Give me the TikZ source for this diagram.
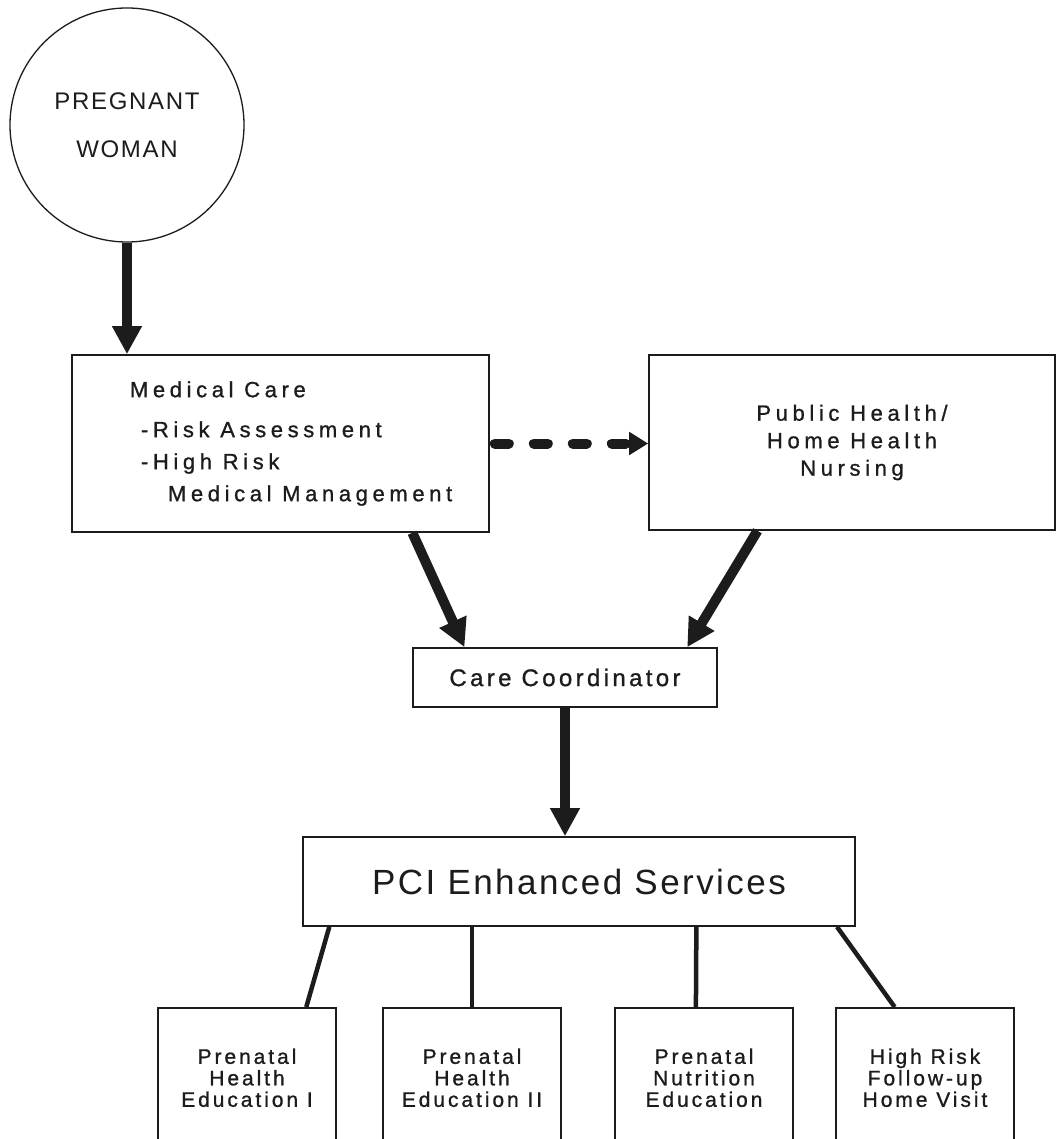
\documentclass[tikz,border=0pt]{standalone}
\usepackage{fontspec}
\setmainfont{Liberation Sans}
\newfontfamily\wideface[LetterSpace=21,FakeBold=1]{Liberation Sans}
\newfontfamily\midface[LetterSpace=14,FakeBold=1]{Liberation Sans}
\newfontfamily\tightface[LetterSpace=7]{Liberation Sans}
\usetikzlibrary{arrows.meta,calc}
\definecolor{scanink}{HTML}{1C1C1C}
\tikzset{
  box/.style={draw=scanink, line width=1.6pt, inner sep=0pt, text=scanink},
  fatarrow/.style={draw=scanink, line width=10pt, -{Triangle[length=28pt,width=28pt]}},
  dasharrow/.style={draw=scanink, line width=10pt, line cap=round, dash pattern=on 14pt off 25pt,
    shorten <=5pt, -{Triangle[length=19pt,width=22pt]}},
  branch/.style={draw=scanink, line width=4.5pt}
}

\begin{document}
\begin{tikzpicture}[x=1pt,y=-1pt]
\clip (0,0) rectangle (1057,1139);
\fill[white] (0,0) rectangle (1057,1139);

% top row
\node[draw=scanink, line width=1.3pt, circle, minimum size=234pt, align=center, text=scanink,
  font=\tightface\fontsize{24}{48}\selectfont] (woman) at (127,125) {PREGNANT\\WOMAN};
\node[box, minimum width=417pt, minimum height=177pt, text width=301pt, inner xsep=58pt, align=flush left,
  font=\wideface\fontsize{22}{32}\selectfont] (med) at (280.5,443.5)
  {Medical Care\\[8pt]\mbox{\hspace*{11pt}-Risk Assessment}\\\mbox{\hspace*{11pt}-High Risk}\\\mbox{\hspace*{38pt}Medical Management}};
\node[box, minimum width=406pt, minimum height=175pt, align=center,
  font=\wideface\fontsize{22}{27.5}\selectfont] (pub) at (852,442.5) {Public Health/\\Home Health\\Nursing};

% middle
\node[box, minimum width=304pt, minimum height=59pt, font=\midface\fontsize{24}{28}\selectfont] (cc) at (565,677.5) {Care Coordinator};
\node[box, minimum width=552pt, minimum height=89pt, font=\tightface\fontsize{35}{40}\selectfont] (pci) at (579,881.5) {PCI Enhanced Services};

% services
\node[box, minimum width=178pt, minimum height=140pt, anchor=north, align=center,
  font=\midface\fontsize{21}{21.5}\selectfont] (b1) at (247,1007) {Prenatal\\Health\\Education I};
\node[box, minimum width=178pt, minimum height=140pt, anchor=north, align=center,
  font=\midface\fontsize{21}{21.5}\selectfont] (b2) at (472,1007) {Prenatal\\Health\\Education II};
\node[box, minimum width=178pt, minimum height=140pt, anchor=north, align=center,
  font=\midface\fontsize{21}{21.5}\selectfont] (b3) at (704,1007) {Prenatal\\Nutrition\\Education};
\node[box, minimum width=178pt, minimum height=140pt, anchor=north, align=center,
  font=\midface\fontsize{21}{21.5}\selectfont] (b4) at (925,1007) {High Risk\\Follow-up\\Home Visit};

% arrows
\draw[fatarrow] (woman.south) -- (woman.south |- med.north);
\draw[dasharrow] (med.east) -- (med.east -| pub.west);
\draw[fatarrow] ($(med.south west)!0.815!(med.south east)$) -- ($(cc.north west)!0.171!(cc.north east)$);
\draw[fatarrow] ($(pub.south west)!0.268!(pub.south east)$) -- ($(cc.north west)!0.9!(cc.north east)$);
\draw[fatarrow] (cc.south) -- (cc.south |- pci.north);

\draw[branch] ($(pci.south west)!0.049!(pci.south east)$) -- ($(b1.north west)!0.83!(b1.north east)$);
\draw[branch] (pci.south -| b2.north) -- (b2.north);
\draw[branch] ($(pci.south west)!0.712!(pci.south east)$) -- ($(b3.north west)!0.455!(b3.north east)$);
\draw[branch] ($(pci.south west)!0.966!(pci.south east)$) -- ($(b4.north west)!0.331!(b4.north east)$);
\end{tikzpicture}
\end{document}
